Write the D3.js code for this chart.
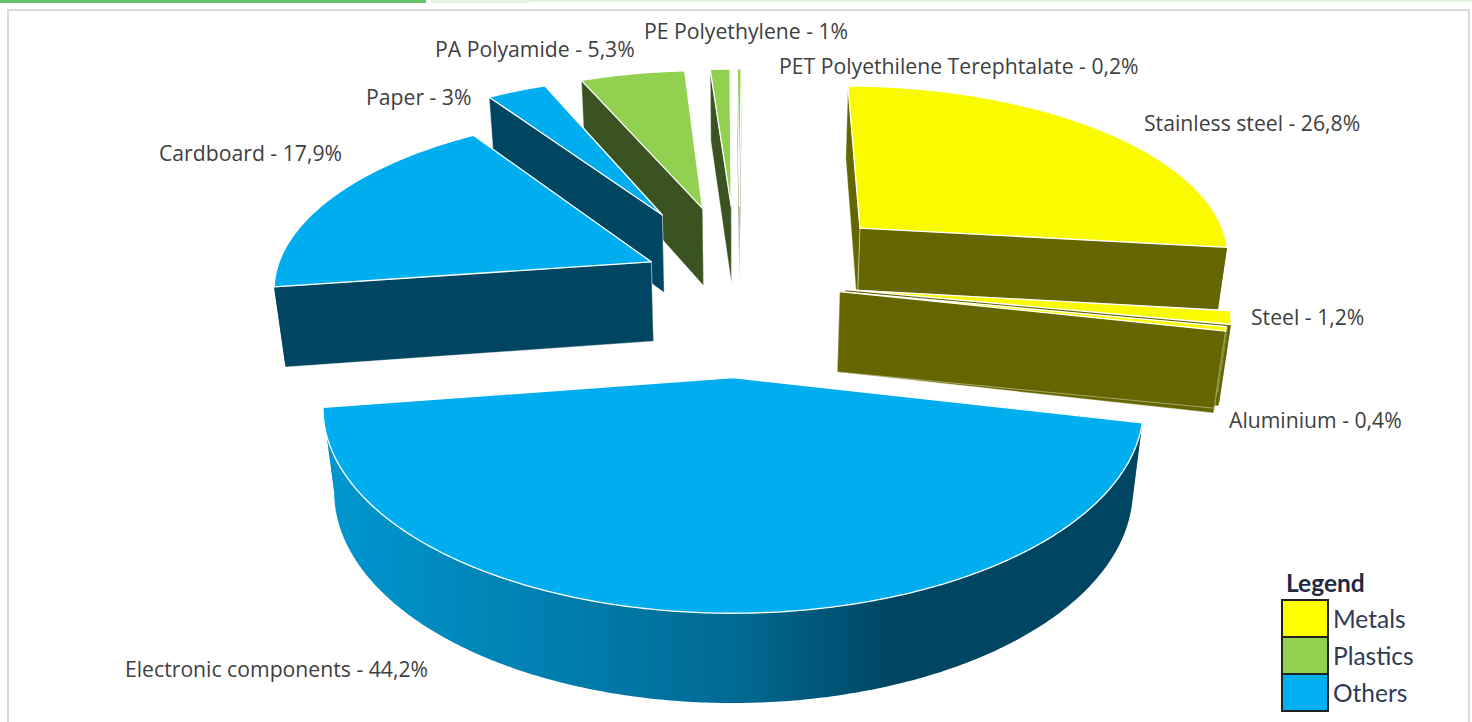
<!DOCTYPE html>
<html>
<head>
<meta charset="utf-8">
<script src="https://cdn.jsdelivr.net/npm/d3@7"></script>
<style>
  html, body { margin: 0; background: #fff; overflow: hidden; }
  svg { display: block; }
  text { font-family: "Open Sans", sans-serif; fill: #404040; }
</style>
</head>
<body>
<svg id="chart" width="1472" height="722"></svg>
<script>
// Material shares, clockwise from the top of the pie
const categories = ["Stainless steel", "Steel", "Aluminium", "Electronic components", "Cardboard",
  "Paper", "PA Polyamide", "PE Polyethylene", "PET Polyethilene Terephtalate"];
const values = [26.8, 1.2, 0.4, 44.2, 17.9, 3, 5.3, 1, 0.2];
const groups = ["Metals", "Metals", "Metals", "Others", "Others", "Others", "Plastics", "Plastics", "Plastics"];
// how far each slice is pulled out, and the tweak of its pull direction in degrees
const explosion = [0.46, 0.277, 0.265, 0.51, 0.268, 0.46, 0.46, 0.46, 0.46];
const pullTweak = [-3, 0, 0, 0, 2, 0, 0, -1.2, -0.5];

const legendNames = ["Metals", "Plastics", "Others"];
const topColors = ["#fafa00", "#92d050", "#00aeef"];
const sideColors = ["#666600", "#3b5320", "#004561"];
const legendColors = ["#ffff00", "#92d050", "#00b0f0"];

// label anchors, same order as categories
const labelX = [1144, 1251, 1229, 125, 159, 366, 435, 644, 779];
const labelY = [131, 325, 428, 677, 161, 105, 57, 39, 74];

// projection of the tilted pie: u right, v towards viewer, z down
const cx = 741, cy = 282, rx = 378, ry = 174.7, depth = 82;
const persp = 0.135, sink = 0.025;

function project(u, v, z) {
  const s = 1 / (1 - persp * v + sink * z);
  return [cx + rx * u * s, cy + (ry * v + depth * z) * s];
}

const svg = d3.select("#chart");
const line = d3.line();
const colorTop = d3.scaleOrdinal(legendNames, topColors);
const colorSide = d3.scaleOrdinal(legendNames, sideColors);
const colorLegend = d3.scaleOrdinal(legendNames, legendColors);

// page chrome around the chart
svg.append("rect").attr("x", 0).attr("y", 0).attr("width", 426).attr("height", 3).attr("fill", "#66c266");
svg.append("rect").attr("x", 431).attr("y", 0).attr("width", 1041).attr("height", 2).attr("fill", "#dff3df");
svg.append("rect").attr("x", 431).attr("y", 0).attr("width", 99).attr("height", 3).attr("fill", "#dff3df");
svg.append("rect").attr("x", 8).attr("y", 10).attr("width", 1461).attr("height", 730)
  .attr("fill", "#fff").attr("stroke", "#d9d9d9").attr("stroke-width", 2);

const defs = svg.append("defs");
const grad = defs.append("linearGradient").attr("id", "frontWall");
grad.append("stop").attr("offset", 0).attr("stop-color", "#0097d0");
grad.append("stop").attr("offset", 0.5).attr("stop-color", "#006b94");
grad.append("stop").attr("offset", 0.7).attr("stop-color", "#004561");
grad.append("stop").attr("offset", 1).attr("stop-color", "#004561");

const start = 0.3 * Math.PI / 180;
const pie = d3.pie().sort(null).startAngle(start).endAngle(start + 2 * Math.PI);

const slices = pie(values).map((d, i) => {
  const mid = (d.startAngle + d.endAngle) / 2 + pullTweak[i] * Math.PI / 180;
  return {
    ...d, i,
    group: groups[i],
    ou: Math.sin(mid) * explosion[i],
    ov: -Math.cos(mid) * explosion[i]
  };
});

function rimPoints(s, a0, a1, z) {
  const n = Math.max(2, Math.ceil((a1 - a0) / 0.01));
  return d3.range(n + 1).map(k => {
    const a = a0 + (a1 - a0) * k / n;
    return project(s.ou + Math.sin(a), s.ov - Math.cos(a), z);
  });
}

function radialWall(s, a) {
  return [
    project(s.ou, s.ov, 0),
    project(s.ou + Math.sin(a), s.ov - Math.cos(a), 0),
    project(s.ou + Math.sin(a), s.ov - Math.cos(a), 1),
    project(s.ou, s.ov, 1)
  ];
}

// far slices first so the nearer ones paint over them
const drawOrder = slices.slice().sort((a, b) => a.ov - b.ov);

drawOrder.forEach(s => {
  const g = svg.append("g").attr("class", "slice");
  const side = colorSide(s.group);

  [s.endAngle, s.startAngle].forEach(a => {
    g.append("path")
      .attr("d", line(radialWall(s, a)) + "Z")
      .attr("fill", side)
      .attr("stroke", "#fff").attr("stroke-width", 0.6).attr("stroke-opacity", 0.7);
  });

  // outer wall only where it faces the viewer
  const a0 = Math.max(s.startAngle, Math.PI / 2);
  const a1 = Math.min(s.endAngle, 3 * Math.PI / 2);
  if (a1 > a0) {
    const wall = rimPoints(s, a0, a1, 0).concat(rimPoints(s, a0, a1, 1).reverse());
    g.append("path")
      .attr("d", line(wall) + "Z")
      .attr("fill", s.i === 3 ? "url(#frontWall)" : side);
  }

  const top = [project(s.ou, s.ov, 0)].concat(rimPoints(s, s.startAngle, s.endAngle, 0));
  g.append("path")
    .attr("d", line(top) + "Z")
    .attr("fill", colorTop(s.group))
    .attr("stroke", "#fff").attr("stroke-width", 1.3).attr("stroke-linejoin", "round");
});

// data labels
svg.append("g").selectAll("text")
  .data(categories)
  .join("text")
  .attr("x", (d, i) => labelX[i])
  .attr("y", (d, i) => labelY[i])
  .attr("font-size", 21.2)
  .text((d, i) => `${d} - ${String(values[i]).replace(".", ",")}%`);

// legend
const legendY = d3.scaleBand().domain(legendNames).range([600, 711]);
const legend = svg.append("g");
legend.append("text").attr("x", 1286).attr("y", 592)
  .attr("font-size", 24.5).attr("font-weight", 700).style("fill", "#1f2a44")
  .style("font-family", "Lato, sans-serif").text("Legend");
legend.selectAll("rect").data(legendNames).join("rect")
  .attr("x", 1282).attr("y", d => legendY(d))
  .attr("width", 46).attr("height", legendY.bandwidth())
  .attr("fill", d => colorLegend(d))
  .attr("stroke", "#222").attr("stroke-width", 2);
legend.selectAll("text.entry").data(legendNames).join("text")
  .attr("class", "entry")
  .attr("x", 1333).attr("y", d => legendY(d) + 28)
  .attr("font-size", 24.5).style("fill", "#2f3a55")
  .style("font-family", "Lato, sans-serif").text(d => d);
</script>
</body>
</html>
